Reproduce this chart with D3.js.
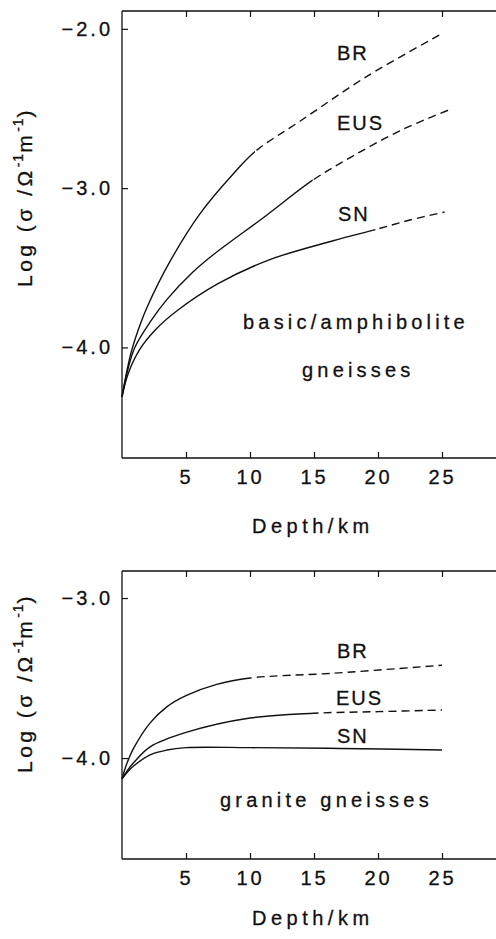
<!DOCTYPE html>
<html>
<head>
<meta charset="utf-8">
<script src="https://cdn.jsdelivr.net/npm/d3@7"></script>
<style>
  body { margin: 0; background: #fff; }
  text { font-family: "Liberation Sans", Arial, sans-serif; fill: #111; stroke: #111; stroke-width: 0.3; }
</style>
</head>
<body>
<script>
// depth (km) vs log conductivity
var depthTicks = [5, 10, 15, 20, 25];
var basicTicks = [-2, -3, -4];
var graniteTicks = [-3, -4];

// basic/amphibolite gneisses
var basicBR = [[0, -4.31], [0.35, -4.16], [0.75, -4.02], [1.4, -3.86], [2.0, -3.74], [3.75, -3.46], [6.1, -3.16], [8.7, -2.91], [10.4, -2.77], [13.9, -2.58], [19.1, -2.30], [25, -2.03]];
var basicEUS = [[0, -4.31], [0.45, -4.14], [1.0, -4.0], [2.2, -3.84], [3.5, -3.70], [5.5, -3.53], [7.1, -3.42], [11.3, -3.17], [14.9, -2.95], [18, -2.80], [21.7, -2.64], [25.5, -2.51]];
var basicSN = [[0, -4.31], [0.5, -4.16], [1.4, -4.01], [2.6, -3.89], [4.3, -3.77], [7.5, -3.60], [11.5, -3.45], [16.5, -3.33], [19.8, -3.26], [22.5, -3.20], [25.2, -3.15]];
var basicBreak = [10.4, 14.9, 19.8]; // solid up to here, dashed beyond

// granite gneisses
var graniteBR = [[0, -4.13], [0.4, -4.03], [0.9, -3.94], [2.2, -3.78], [3.5, -3.68], [5, -3.61], [7.4, -3.54], [10, -3.50], [16.5, -3.47], [25, -3.42]];
var graniteEUS = [[0, -4.13], [0.4, -4.08], [0.9, -4.03], [2.2, -3.93], [5, -3.84], [10, -3.75], [15, -3.72], [20, -3.71], [25, -3.70]];
var graniteSN = [[0, -4.13], [0.4, -4.09], [0.9, -4.05], [2.2, -3.98], [3.5, -3.95], [5, -3.935], [10, -3.935], [17, -3.94], [25, -3.95]];
var graniteBreak = [10, 15, 99];

var names = ["BR", "EUS", "SN"];

var svg = d3.select("body").append("svg")
  .attr("width", 496)
  .attr("height", 939);

var x = d3.scaleLinear().domain([0, 30]).range([122, 506]);

function panel(opt) {
  var y = d3.scaleLinear().domain(opt.yDomain).range([opt.bottom, opt.top]);
  var g = svg.append("g");

  // box
  g.append("line").attr("x1", x(0)).attr("x2", 496).attr("y1", opt.top).attr("y2", opt.top)
    .attr("stroke", "#111").attr("stroke-width", 1.3);
  g.append("line").attr("x1", x(0)).attr("x2", 496).attr("y1", opt.bottom).attr("y2", opt.bottom)
    .attr("stroke", "#111").attr("stroke-width", 1.3);
  g.append("line").attr("x1", x(0)).attr("x2", x(0)).attr("y1", opt.top).attr("y2", opt.bottom)
    .attr("stroke", "#111").attr("stroke-width", 1.3);

  // axes, ticks pointing in
  var bx = g.append("g").attr("transform", "translate(0," + opt.bottom + ")")
    .call(d3.axisBottom(x).tickValues(depthTicks).tickSizeInner(-6).tickSizeOuter(0).tickPadding(12));
  var tx = g.append("g").attr("transform", "translate(0," + opt.top + ")")
    .call(d3.axisTop(x).tickValues(depthTicks).tickSizeInner(-6).tickSizeOuter(0).tickFormat(""));
  var ly = g.append("g").attr("transform", "translate(" + x(0) + ",0)")
    .call(d3.axisLeft(y).tickValues(opt.yTicks).tickSizeInner(-6).tickSizeOuter(0).tickPadding(9)
      .tickFormat(function(d) { return "\u2212" + Math.abs(d).toFixed(1); }));
  [bx, tx, ly].forEach(function(a) {
    a.select(".domain").remove();
    a.selectAll("line").attr("stroke", "#111").attr("stroke-width", 1.2);
    a.selectAll("text").attr("font-size", 20).attr("font-family", "Liberation Sans, Arial, sans-serif")
      .attr("fill", "#111").attr("letter-spacing", 3);
  });

  var line = d3.line().x(function(d) { return x(d[0]); }).y(function(d) { return y(d[1]); })
    .curve(d3.curveCatmullRom.alpha(0.5));

  opt.series.forEach(function(s, i) {
    var cut = x(opt.breaks[i]);
    var idS = opt.id + "s" + i, idD = opt.id + "d" + i;
    var defs = g.append("defs");
    defs.append("clipPath").attr("id", idS).append("rect")
      .attr("x", 0).attr("y", 0).attr("width", cut).attr("height", 939);
    defs.append("clipPath").attr("id", idD).append("rect")
      .attr("x", cut).attr("y", 0).attr("width", 496).attr("height", 939);
    g.append("path").attr("d", line(s)).attr("fill", "none").attr("stroke", "#111")
      .attr("stroke-width", 1.4).attr("clip-path", "url(#" + idS + ")");
    g.append("path").attr("d", line(s)).attr("fill", "none").attr("stroke", "#111")
      .attr("stroke-width", 1.4).attr("stroke-dasharray", "8,5").attr("clip-path", "url(#" + idD + ")");
  });

  opt.labels.forEach(function(l) {
    g.append("text").attr("x", l[1]).attr("y", l[2]).attr("font-size", 20)
      .attr("letter-spacing", l[3]).text(l[0]);
  });

  // y axis title
  var t = g.append("text").attr("transform", "translate(32," + opt.titleY + ") rotate(-90)")
    .attr("font-size", 21).attr("letter-spacing", 3.5);
  t.append("tspan").text("Log (\u03c3 /\u03a9");
  t.append("tspan").attr("font-size", 14).attr("dy", -9).attr("letter-spacing", 1).text("-1");
  t.append("tspan").attr("dy", 9).text("m");
  t.append("tspan").attr("font-size", 14).attr("dy", -9).attr("letter-spacing", 1).text("-1");
  t.append("tspan").attr("dy", 9).text(")");
}

panel({
  id: "p1", top: 11, bottom: 458, yDomain: [-4.694, -1.888], yTicks: basicTicks,
  series: [basicBR, basicEUS, basicSN], breaks: basicBreak, titleY: 287,
  labels: [[names[0], 337, 60, 2], [names[1], 337, 130, 2], [names[2], 338, 221, 2],
    ["basic/amphibolite", 243, 329, 4.2], ["gneisses", 302, 377, 4.2], ["Depth/km", 252, 533, 4.5]]
});

panel({
  id: "p2", top: 571, bottom: 859, yDomain: [-4.631, -2.831], yTicks: graniteTicks,
  series: [graniteBR, graniteEUS, graniteSN], breaks: graniteBreak, titleY: 773,
  labels: [[names[0], 337, 658, 2], [names[1], 336, 705, 2], [names[2], 337, 743, 2],
    ["granite gneisses", 220, 807, 4.2], ["Depth/km", 252, 925, 4.5]]
});
</script>
</body>
</html>
